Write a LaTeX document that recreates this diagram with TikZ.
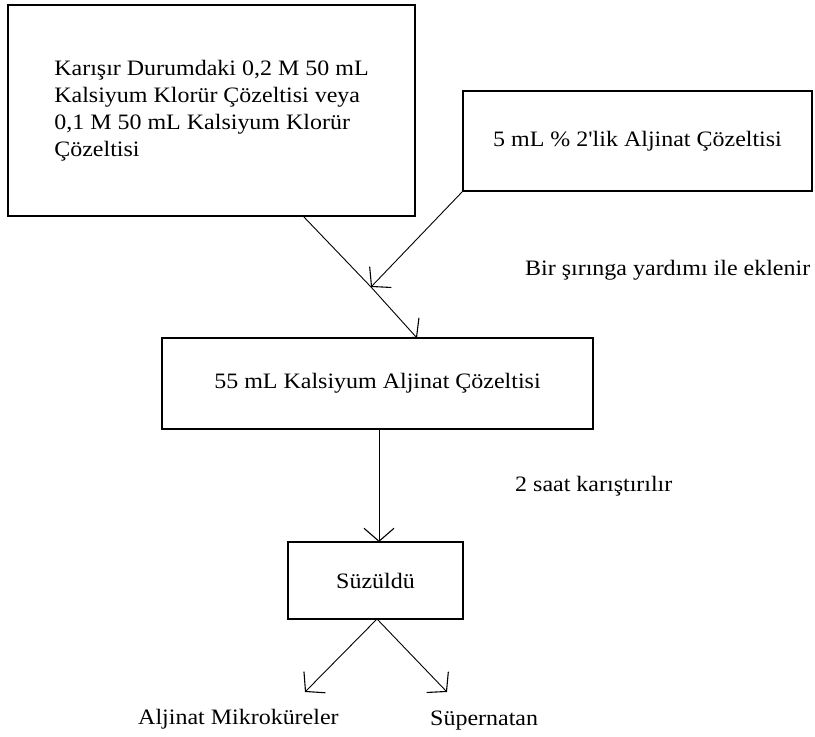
\documentclass[tikz,border=0pt]{standalone}
\usepackage{fontspec}
\setmainfont{Liberation Serif}[FakeStretch=1.09, Ligatures=TeXOff]
\usetikzlibrary{arrows.meta}

\begin{document}
\begin{tikzpicture}[x=1pt, y=-1pt,
  txt/.style={font=\fontsize{22}{27}\selectfont},
  procbox/.style={draw, line width=1.2pt, txt, inner sep=0pt},
  lbl/.style={txt, inner sep=0pt, anchor=base west},
  flow/.style={line width=0.9pt, -{Straight Barb[length=13pt, width=30pt, line width=1.1pt]}},
  plain/.style={line width=0.9pt}]
  \useasboundingbox (0,0) rectangle (815,737);

  % process boxes
  \node[procbox, align=left, minimum width=407pt, minimum height=211pt] (mix) at (211.5,110.5)
    {Karışır Durumdaki 0,2 M 50 mL\\Kalsiyum Klorür Çözeltisi veya\\0,1 M 50 mL Kalsiyum Klorür\\Çözeltisi};
  \node[procbox, minimum width=349pt, minimum height=100pt] (alg) at (637.5,141)
    {5 mL \% 2'lik Aljinat Çözeltisi};
  \node[procbox, minimum width=431pt, minimum height=91pt] (calg) at (377.5,383.5)
    {55 mL Kalsiyum Aljinat Çözeltisi};
  \node[procbox, minimum width=175pt, minimum height=77pt] (filt) at (375.5,580.5)
    {Süzüldü};

  % side notes and products
  \node[lbl] (syr) at (525,275) {Bir şırınga yardımı ile eklenir};
  \node[lbl] (stir) at (515,491) {2 saat karıştırılır};
  \node[lbl] (micro) at (138,724) {Aljinat Mikroküreler};
  \node[lbl] (sup) at (430,725) {Süpernatan};

  % connector points
  \coordinate (mixout) at (303,216);
  \coordinate (meet) at (371,287);
  \coordinate (calgin) at (417,338);
  \coordinate (calgout) at (379,429);
  \coordinate (filtin) at (379,542);
  \coordinate (filtout) at (377,619);
  \coordinate (microtip) at (305,692);
  \coordinate (suptip) at (447,692);

  % connectors
  \draw[plain] (mixout) -- (meet);
  \draw[flow] (meet) -- (calgin);
  \draw[flow] (alg.south west) -- (meet);
  \draw[flow] (calgout) -- (filtin);
  \draw[flow] (filtout) -- (microtip);
  \draw[flow] (filtout) -- (suptip);
\end{tikzpicture}
\end{document}
